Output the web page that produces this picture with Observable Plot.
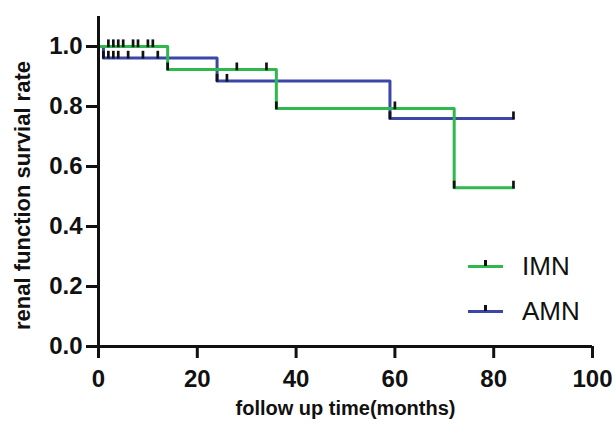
<!DOCTYPE html>
<html>
<head>
<meta charset="utf-8">
<script src="https://cdn.jsdelivr.net/npm/d3@7"></script>
<script src="https://cdn.jsdelivr.net/npm/@observablehq/plot@0.6"></script>
<style>
  html, body { margin: 0; padding: 0; background: #fff; }
  #wrap { position: relative; width: 613px; height: 433px; font-family: "Liberation Sans", Arial, sans-serif; }
  #wrap g[aria-label$="tick label"] { font-size: 24px !important; font-weight: bold; }
  #wrap g[aria-label$="tick label"] text { font-size: 24px !important; }
  .leg { position: absolute; display: flex; align-items: center; }
  .leg .sw { position: relative; width: 35px; height: 3px; }
  .leg .sw i { position: absolute; left: 16px; top: -5px; width: 3px; height: 6px; background: #111; }
  .leg span { margin-left: 19px; font-size: 26px; color: #111; }
</style>
</head>
<body>
<div id="wrap"></div>
<script>
// Kaplan–Meier steps
const imnTimes = [0, 14, 36, 72, 84];
const imnSurv  = [1.0, 0.923, 0.793, 0.529, 0.529];
const amnTimes = [0, 1, 24, 59, 84];
const amnSurv  = [1.0, 0.962, 0.885, 0.760, 0.760];
// censored observations (time, survival level)
const imnCensorT = [2, 3, 4, 5, 7, 8, 10, 11, 14, 28, 34, 36, 60, 72, 84];
const imnCensorS = [1.0, 1.0, 1.0, 1.0, 1.0, 1.0, 1.0, 1.0, 0.923, 0.923, 0.923, 0.793, 0.793, 0.529, 0.529];
const amnCensorT = [1, 2, 3, 4, 6, 9, 12, 24, 26, 59, 84];
const amnCensorS = [0.962, 0.962, 0.962, 0.962, 0.962, 0.962, 0.962, 0.885, 0.885, 0.760, 0.760];
const series = ["IMN", "AMN"];
const colors = ["#2fb84b", "#3b47a8"];
const xTicks = [0, 20, 40, 60, 80, 100];
const yTicks = [0, 0.2, 0.4, 0.6, 0.8, 1.0];
const xTitle = "follow up time(months)";
const yTitle = "renal function survial rate";

const steps = [
  ...amnTimes.map((t, i) => ({group: "AMN", t, s: amnSurv[i]})),
  ...imnTimes.map((t, i) => ({group: "IMN", t, s: imnSurv[i]}))
];
const censors = [
  ...amnCensorT.map((t, i) => ({group: "AMN", t, s: amnCensorS[i]})),
  ...imnCensorT.map((t, i) => ({group: "IMN", t, s: imnCensorS[i]}))
];

const chart = Plot.plot({
  width: 613,
  height: 433,
  marginLeft: 98,
  marginRight: 21,
  marginTop: 16,
  marginBottom: 87,
  style: {fontFamily: "'Liberation Sans', Arial, sans-serif", fontSize: "20px", fontWeight: "bold", color: "#111", background: "#fff"},
  x: {domain: [0, 100]},
  y: {domain: [0, 1.1]},
  color: {domain: series, range: colors},
  marks: [
    Plot.line(steps.filter(d => d.group === "AMN"), {x: "t", y: "s", stroke: "group", strokeWidth: 3, curve: "step-after"}),
    Plot.line(steps.filter(d => d.group === "IMN"), {x: "t", y: "s", stroke: "group", strokeWidth: 3, curve: "step-after"}),
    Plot.ruleX(censors, {x: "t", y1: d => d.s - 0.004, y2: d => d.s + 0.022, stroke: "#111", strokeWidth: 2.7}),
    Plot.axisX({ticks: xTicks, tickSize: 12, tickPadding: 11, strokeWidth: 3, stroke: "#111", label: null, fontSize: 24, fontWeight: "bold"}),
    Plot.axisY({ticks: yTicks, tickFormat: d3.format(".1f"), tickSize: 12, tickPadding: 4, strokeWidth: 3, stroke: "#111", label: null, fontSize: 24, fontWeight: "bold"}),
    Plot.ruleY([0], {stroke: "#111", strokeWidth: 3}),
    Plot.ruleX([0], {stroke: "#111", strokeWidth: 3}),
    Plot.text([xTitle], {frameAnchor: "bottom", dy: 68, fontSize: 20, fontWeight: "bold", fill: "#111"}),
    Plot.text([yTitle], {frameAnchor: "left", textAnchor: "middle", dx: -76, dy: 14, rotate: -90, fontSize: 22, fontWeight: "bold", fill: "#111"})
  ]
});
const wrap = document.getElementById("wrap");
wrap.appendChild(chart);

// legend overlay
[["IMN", colors[0], 266], ["AMN", colors[1], 311]].forEach(([name, col, y]) => {
  const d = document.createElement("div");
  d.className = "leg";
  d.style.left = "468px";
  d.style.top = (y - 15) + "px";
  d.style.height = "30px";
  d.innerHTML = `<div class="sw" style="background:${col}"><i></i></div><span>${name}</span>`;
  wrap.appendChild(d);
});
</script>
</body>
</html>
